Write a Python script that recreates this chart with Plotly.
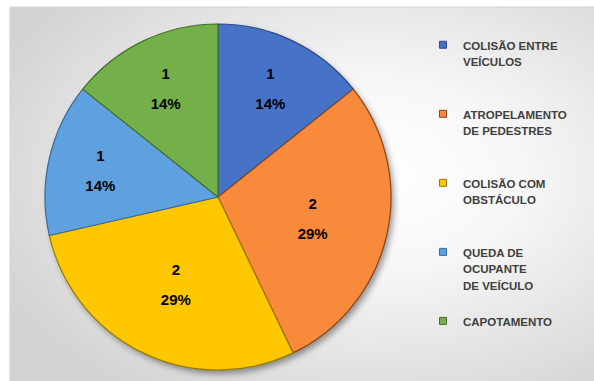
import base64
import plotly.graph_objects as go

# Accident types and counts
categories = [
    "COLISÃO ENTRE<br>VEÍCULOS",
    "ATROPELAMENTO<br>DE PEDESTRES",
    "COLISÃO COM<br>OBSTÁCULO",
    "QUEDA DE<br>OCUPANTE<br>DE VEÍCULO",
    "CAPOTAMENTO",
]
counts = [1, 2, 2, 1, 1]

slice_colors = ["#4673C8", "#F98A3B", "#FFC700", "#5FA0DE", "#74B04A"]
edge_colors = ["#2C4A85", "#8A4515", "#9C7A00", "#3A6A99", "#44702A"]

W, H = 594, 381
FRAME_L, FRAME_T = 10, 7

# Pie geometry in pixels
cx, cy, r = 218, 197, 173

# Soft radial gradient behind the chart, with a blurred drop shadow under the pie
fw, fh = W - FRAME_L, H - FRAME_T
svg = f"""<svg xmlns='http://www.w3.org/2000/svg' width='{fw}' height='{fh}' viewBox='0 0 {fw} {fh}'>
<defs>
<radialGradient id='g' cx='0.62' cy='0.45' r='0.72'>
<stop offset='0' stop-color='#ffffff'/>
<stop offset='0.35' stop-color='#f7f7f7'/>
<stop offset='1' stop-color='#d2d2d2'/>
</radialGradient>
<filter id='b' x='-20%' y='-20%' width='140%' height='140%'>
<feGaussianBlur stdDeviation='3'/>
</filter>
</defs>
<rect x='0' y='0' width='{fw}' height='{fh}' fill='url(#g)'/>
<circle cx='{cx - FRAME_L + 3}' cy='{cy - FRAME_T + 4}' r='{r}' fill='#000000' fill-opacity='0.4' filter='url(#b)'/>
</svg>"""
bg_uri = "data:image/svg+xml;base64," + base64.b64encode(svg.encode()).decode()

# Legend labels: smaller glyphs inside a taller line box, padded to equal height
LEG_PX = 11.5
max_lines = 4


def legend_label(text, pad):
    lines = [f"<span style='font-size:{LEG_PX}px'>{t}</span>" for t in text.split("<br>")]
    if pad:
        lines += [" "] * (max_lines - len(lines))
    return "<br>".join(lines)


fig = go.Figure()

fig.add_trace(
    go.Pie(
        labels=categories,
        values=counts,
        sort=False,
        direction="clockwise",
        rotation=0,
        marker=dict(colors=slice_colors, line=dict(color=edge_colors, width=1.2)),
        texttemplate="<span style='font-size:15px'>%{value}</span><br>"
                     "<span style='font-size:15px'>%{percent:.0%}</span>",
        textposition="inside",
        insidetextorientation="horizontal",
        textfont=dict(family="Liberation Sans, Arial", size=23, color="#000000", weight="bold"),
        domain=dict(x=[(cx - r) / W, (cx + r) / W], y=[1 - (cy + r) / H, 1 - (cy - r) / H]),
        hoverinfo="label+value+percent",
        showlegend=False,
    )
)

# Legend entries with small square keys
for i, (cat, col, edge) in enumerate(zip(categories, slice_colors, edge_colors)):
    fig.add_trace(
        go.Scatter(
            x=[None],
            y=[None],
            mode="markers",
            name=legend_label(cat, i < len(categories) - 1),
            marker=dict(symbol="square", size=7, color=col, line=dict(color=edge, width=1)),
            showlegend=True,
            hoverinfo="skip",
        )
    )

fig.update_layout(
    width=W,
    height=H,
    margin=dict(l=0, r=0, t=0, b=0),
    paper_bgcolor="#ffffff",
    plot_bgcolor="rgba(0,0,0,0)",
    xaxis=dict(visible=False),
    yaxis=dict(visible=False),
    showlegend=True,
    legend=dict(
        x=423 / W,
        y=1 - 30 / H,
        xanchor="left",
        yanchor="top",
        valign="top",
        bgcolor="rgba(0,0,0,0)",
        font=dict(family="Liberation Sans, Arial", size=12.7, color="#404040", weight="bold"),
        traceorder="normal",
        itemsizing="trace",
    ),
    images=[
        dict(
            source=bg_uri,
            xref="paper",
            yref="paper",
            x=FRAME_L / W,
            y=1 - FRAME_T / H,
            sizex=fw / W,
            sizey=fh / H,
            sizing="stretch",
            xanchor="left",
            yanchor="top",
            layer="below",
        )
    ],
    shapes=[
        dict(
            type="rect",
            xref="paper",
            yref="paper",
            x0=FRAME_L / W,
            x1=1.01,
            y0=-0.01,
            y1=1 - FRAME_T / H,
            line=dict(color="#d4d4d4", width=1),
            fillcolor="rgba(0,0,0,0)",
            layer="below",
        )
    ],
)

fig.write_html("out.html")
